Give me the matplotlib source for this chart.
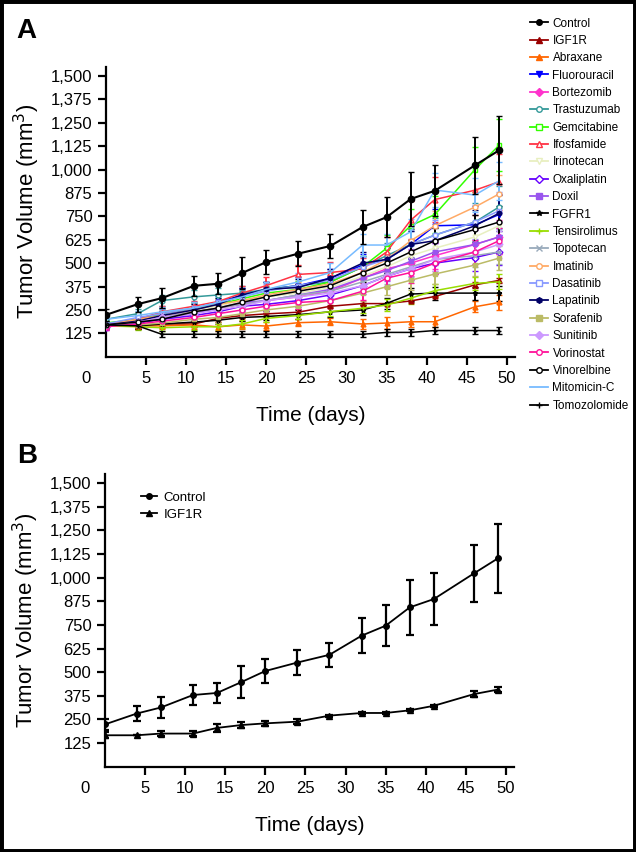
import matplotlib.pyplot as plt
from matplotlib.lines import Line2D
from matplotlib.patches import Rectangle

plt.rcParams['font.family'] = ['Liberation Sans', 'DejaVu Sans']

# measurement days
days = [0, 4, 7, 11, 14, 17, 20, 24, 28, 32, 35, 38, 41, 46, 49]

# tumor volumes (mm3) and SEM
control = [223, 281, 313, 379, 390, 447, 506, 551, 592, 693, 746, 843, 887, 1023, 1103]
control_err = [30, 40, 55, 55, 55, 85, 65, 68, 63, 93, 107, 145, 137, 152, 182]
igf1r = [166, 166, 175, 175, 205, 220, 229, 238, 270, 284, 284, 298, 322, 384, 408]
igf1r_err = [15, 0, 15, 15, 20, 15, 15, 15, 5, 5, 5, 5, 5, 15, 15]
abraxane = [165, 165, 165, 170, 160, 170, 164, 182, 187, 175, 180, 187, 187, 267, 290]
abraxane_err = [15, 15, 15, 20, 25, 20, 20, 20, 20, 25, 30, 30, 30, 30, 40]
fluorouracil = [170, 190, 230, 250, 290, 330, 360, 380, 420, 490, 520, 600, 700, 705, 760]
fluorouracil_err = [20, 25, 30, 30, 35, 40, 40, 45, 50, 60, 70, 80, 90, 100, 110]
bortezomib = [165, 190, 210, 240, 260, 280, 300, 320, 350, 420, 470, 500, 540, 600, 640]
bortezomib_err = [15, 20, 25, 30, 35, 35, 40, 40, 45, 55, 60, 70, 70, 80, 90]
trastuzumab = [200, 230, 300, 320, 330, 340, 360, 380, 400, 480, 540, 600, 650, 720, 800]
trastuzumab_err = [20, 25, 30, 35, 35, 40, 40, 45, 50, 60, 70, 80, 90, 100, 110]
gemcitabine = [180, 200, 230, 260, 280, 310, 340, 360, 400, 480, 580, 700, 760, 1000, 1130]
gemcitabine_err = [20, 25, 25, 30, 35, 40, 40, 45, 50, 60, 70, 90, 100, 120, 140]
ifosfamide = [170, 200, 240, 270, 295, 340, 380, 440, 450, 470, 560, 730, 840, 890, 935]
ifosfamide_err = [20, 25, 30, 30, 35, 40, 45, 50, 55, 60, 80, 100, 120, 130, 150]
irinotecan = [170, 190, 220, 250, 270, 300, 320, 340, 370, 430, 480, 540, 580, 640, 700]
irinotecan_err = [15, 20, 25, 30, 30, 35, 40, 40, 45, 55, 60, 70, 75, 80, 90]
oxaliplatin = [160, 180, 200, 220, 240, 270, 280, 300, 330, 380, 430, 470, 500, 530, 560]
oxaliplatin_err = [15, 20, 20, 25, 30, 30, 35, 35, 40, 45, 50, 60, 60, 70, 70]
doxil = [165, 185, 210, 230, 260, 290, 300, 330, 360, 420, 460, 510, 560, 600, 640]
doxil_err = [15, 20, 25, 25, 30, 35, 35, 40, 45, 50, 55, 65, 70, 75, 80]
fgfr1 = [170, 165, 175, 185, 195, 210, 215, 225, 240, 250, 285, 335, 340, 340, 340]
fgfr1_err = [15, 15, 15, 20, 20, 20, 20, 25, 25, 25, 30, 35, 35, 35, 40]
tensirolimus = [165, 160, 155, 160, 160, 175, 205, 220, 241, 259, 276, 313, 353, 392, 400]
tensirolimus_err = [15, 15, 15, 15, 15, 20, 20, 20, 25, 25, 30, 30, 35, 35, 40]
topotecan = [170, 190, 210, 240, 260, 280, 300, 330, 350, 400, 440, 480, 520, 540, 560]
topotecan_err = [15, 20, 20, 25, 30, 30, 35, 35, 40, 45, 50, 55, 60, 60, 65]
imatinib = [170, 200, 220, 250, 280, 300, 330, 360, 390, 450, 520, 620, 700, 800, 870]
imatinib_err = [15, 20, 25, 30, 30, 35, 40, 40, 45, 55, 60, 70, 80, 90, 100]
dasatinib = [175, 210, 230, 260, 290, 320, 350, 380, 410, 480, 520, 600, 650, 720, 780]
dasatinib_err = [20, 20, 25, 30, 35, 35, 40, 45, 50, 55, 60, 70, 80, 90, 100]
lapatinib = [170, 190, 220, 250, 280, 330, 360, 370, 420, 500, 520, 600, 620, 700, 767]
lapatinib_err = [15, 20, 25, 30, 35, 40, 40, 45, 50, 60, 60, 70, 75, 85, 95]
sorafenib = [165, 170, 180, 200, 210, 230, 250, 270, 300, 340, 374, 409, 442, 490, 527]
sorafenib_err = [15, 15, 20, 20, 25, 25, 30, 30, 35, 40, 45, 50, 55, 60, 65]
sunitinib = [165, 185, 210, 230, 250, 270, 300, 320, 340, 380, 430, 470, 520, 560, 600]
sunitinib_err = [15, 20, 20, 25, 30, 30, 35, 35, 40, 45, 50, 55, 60, 65, 70]
vorinostat = [160, 175, 190, 210, 230, 250, 270, 290, 300, 350, 420, 450, 500, 560, 620]
vorinostat_err = [15, 20, 20, 25, 30, 30, 35, 35, 40, 45, 50, 55, 60, 65, 70]
vinorelbine = [170, 185, 200, 240, 260, 290, 320, 350, 380, 450, 500, 560, 620, 680, 720]
vinorelbine_err = [15, 20, 20, 25, 30, 35, 35, 40, 45, 50, 55, 65, 70, 75, 85]
mitomicin = [200, 220, 240, 260, 290, 320, 360, 400, 450, 597, 597, 668, 891, 864, 940]
mitomicin_err = [20, 25, 25, 30, 35, 35, 40, 45, 50, 60, 60, 70, 90, 90, 100]
tomozolomide = [170, 165, 120, 120, 120, 120, 120, 120, 120, 120, 130, 130, 140, 140, 140]
tomozolomide_err = [15, 15, 15, 15, 15, 15, 15, 15, 15, 15, 20, 20, 20, 20, 20]

names = ['Control', 'IGF1R', 'Abraxane', 'Fluorouracil', 'Bortezomib', 'Trastuzumab',
         'Gemcitabine', 'Ifosfamide', 'Irinotecan', 'Oxaliplatin', 'Doxil', 'FGFR1',
         'Tensirolimus', 'Topotecan', 'Imatinib', 'Dasatinib', 'Lapatinib', 'Sorafenib',
         'Sunitinib', 'Vorinostat', 'Vinorelbine', 'Mitomicin-C', 'Tomozolomide']
volumes = [control, igf1r, abraxane, fluorouracil, bortezomib, trastuzumab,
           gemcitabine, ifosfamide, irinotecan, oxaliplatin, doxil, fgfr1,
           tensirolimus, topotecan, imatinib, dasatinib, lapatinib, sorafenib,
           sunitinib, vorinostat, vinorelbine, mitomicin, tomozolomide]
errors = [control_err, igf1r_err, abraxane_err, fluorouracil_err, bortezomib_err,
          trastuzumab_err, gemcitabine_err, ifosfamide_err, irinotecan_err,
          oxaliplatin_err, doxil_err, fgfr1_err, tensirolimus_err, topotecan_err,
          imatinib_err, dasatinib_err, lapatinib_err, sorafenib_err, sunitinib_err,
          vorinostat_err, vinorelbine_err, mitomicin_err, tomozolomide_err]

# style: color, marker, filled
styles = [('black', 'o', True), ('#990000', '^', True), ('#FF6600', '^', True),
          ('#0000FF', 'v', True), ('#FF33CC', 'D', True), ('#339999', 'o', False),
          ('#33FF00', 's', False), ('#FF3344', '^', False), ('#E8EFC0', 'v', False),
          ('#6600FF', 'D', False), ('#9955EE', 's', True), ('black', '*', True),
          ('#99DD00', '+', True), ('#99AABB', 'x', True), ('#FFAA66', 'o', False),
          ('#8899FF', 's', False), ('#000066', 'h', True), ('#BBBB66', 's', True),
          ('#CC99FF', 'D', True), ('#FF1199', 'o', False), ('black', 'o', False),
          ('#77BBFF', '', True), ('black', '+', True)]

yticks = [125, 250, 375, 500, 625, 750, 875, 1000, 1125, 1250, 1375, 1500]
xticks = [5, 10, 15, 20, 25, 30, 35, 40, 45, 50]

fig = plt.figure(figsize=(6.36, 8.52), dpi=100)
axA = fig.add_axes([0.166, 0.5813, 0.6439, 0.3404])
axB = fig.add_axes([0.1645, 0.1002, 0.6439, 0.3437])


def style_axis(ax):
    for s in ['top', 'right']:
        ax.spines[s].set_visible(False)
    for s in ['left', 'bottom']:
        ax.spines[s].set_linewidth(1.6)
    ax.set_xlim(0, 51)
    ax.set_ylim(0, 1550)
    ax.set_yticks(yticks)
    ax.set_yticklabels([f'{v:,}' for v in yticks])
    ax.set_xticks(xticks)
    ax.tick_params(direction='out', length=5.5, width=1.6, labelsize=12, pad=4)
    ax.tick_params(axis='x', pad=5)
    ax.annotate('0', xy=(-2.4, 0), xycoords=ax.get_xaxis_transform(),
                xytext=(0, -10.5), textcoords='offset points',
                ha='center', va='top', fontsize=12, annotation_clip=False)
    ax.set_ylabel('Tumor Volume (mm$^3$)', fontsize=16, labelpad=6)
    ax.set_xlabel('Time (days)', fontsize=15, labelpad=14)


# panel A: all treatments, control drawn last so it sits on top
handles = []
order = list(range(1, len(names))) + [0]
for i in order:
    color, marker, filled = styles[i]
    lw = 1.5 if i == 0 else 1.1
    ms = 4.5 if i == 0 else 3.5
    axA.errorbar(days, volumes[i], yerr=errors[i], color=color, lw=lw,
                 marker=marker, ms=ms, mfc=color if filled else 'white',
                 mec=color, mew=1.0, elinewidth=1.4, capsize=2.5, capthick=1.4,
                 zorder=3 + (5 if i == 0 else 0))
for i in range(len(names)):
    color, marker, filled = styles[i]
    handles.append(Line2D([], [], color=color, lw=1.3, marker=marker, ms=4,
                          mfc=color if filled else 'white', mec=color, mew=1.0,
                          label=names[i]))
style_axis(axA)

fig.legend(handles=handles, loc='upper left', bbox_to_anchor=(0.826, 0.985),
           frameon=False, prop={'size': 8.5},
           handlelength=1.5, handletextpad=0.4, labelspacing=0.455,
           borderaxespad=0)

# panel B: control vs IGF1R
axB.errorbar(days, control, yerr=control_err, color='black', lw=1.3, marker='o',
             ms=4, elinewidth=1.6, capsize=3, capthick=1.6, label='Control')
axB.errorbar(days, igf1r, yerr=igf1r_err, color='black', lw=1.3, marker='^',
             ms=4.5, elinewidth=1.6, capsize=3, capthick=1.6, label='IGF1R')
style_axis(axB)
hb = [Line2D([], [], color='black', lw=1.3, marker='o', ms=4, label='Control'),
      Line2D([], [], color='black', lw=1.3, marker='^', ms=4.5, label='IGF1R')]
axB.legend(handles=hb, loc='upper left', bbox_to_anchor=(0.06, 0.98),
           frameon=False, fontsize=9.5, handlelength=1.2, handletextpad=0.5,
           labelspacing=0.35)

fig.text(16 / 636, 1 - 18 / 852, 'A', fontsize=20, fontweight='bold', va='top')
fig.text(17 / 636, 1 - 443 / 852, 'B', fontsize=20, fontweight='bold', va='top')

fig.add_artist(Rectangle((0, 0), 1, 1, transform=fig.transFigure, fill=False,
                         lw=5, edgecolor='black'))

fig.savefig('out.png', dpi=100)
